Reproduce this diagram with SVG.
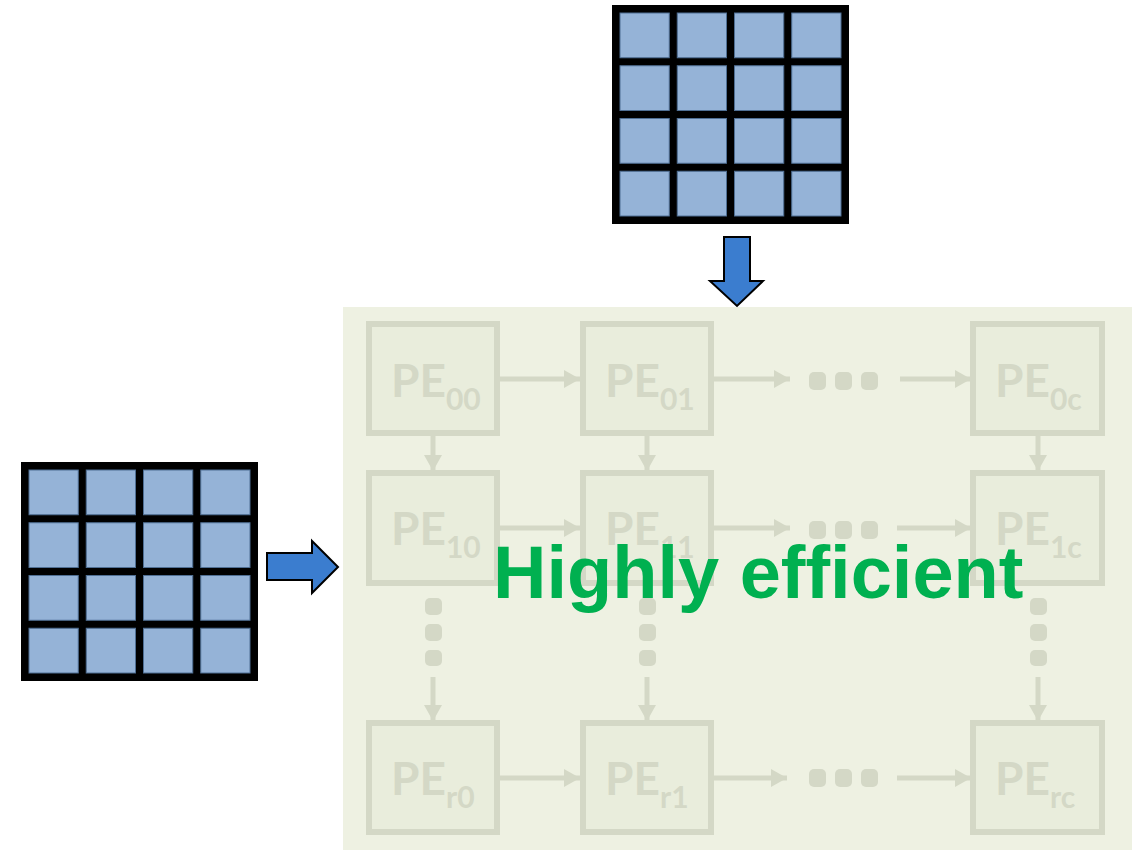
<svg xmlns="http://www.w3.org/2000/svg" width="1135" height="851" viewBox="0 0 1135 851">
  <defs>
    <style>
      .panel { fill: #EEF1E2; }
      .pe rect { fill: #E9EDDC; stroke: #D4D8C6; stroke-width: 6; }
      .pe text { font-family: Lato, "Open Sans", sans-serif; font-weight: bold; fill: #D4D8C6; font-size: 46px; }
      .pe .sub { font-size: 30px; }
      .wire { stroke: #D4D8C6; stroke-width: 5; fill: none; }
      .dot { fill: #D4D8C6; }
      .cell { fill: #95B3D7; stroke: #4F6F94; stroke-width: 1; }
      .frame { fill: #000; }
      .feed { fill: #3B7DCF; stroke: #000; stroke-width: 2; stroke-linejoin: miter; }
      .title { font-family: "Liberation Sans", Arial, sans-serif; font-weight: bold; font-size: 74px; fill: #00B050; }
    </style>
    <marker id="tip" markerUnits="userSpaceOnUse" markerWidth="18" markerHeight="20" refX="17" refY="10" orient="auto">
      <path d="M1,1 L17,10 L1,19 Z" fill="#D4D8C6"/>
    </marker>
    <!-- 4x4 matrix: black frame with light-blue cells -->
    <g id="matrix">
      <rect class="frame" x="0" y="0" width="237" height="219"/>
      <rect class="cell" x="8" y="8" width="49.25" height="44.75"/>
      <rect class="cell" x="65.25" y="8" width="49.25" height="44.75"/>
      <rect class="cell" x="122.5" y="8" width="49.25" height="44.75"/>
      <rect class="cell" x="179.75" y="8" width="49.25" height="44.75"/>
      <rect class="cell" x="8" y="60.75" width="49.25" height="44.75"/>
      <rect class="cell" x="65.25" y="60.75" width="49.25" height="44.75"/>
      <rect class="cell" x="122.5" y="60.75" width="49.25" height="44.75"/>
      <rect class="cell" x="179.75" y="60.75" width="49.25" height="44.75"/>
      <rect class="cell" x="8" y="113.5" width="49.25" height="44.75"/>
      <rect class="cell" x="65.25" y="113.5" width="49.25" height="44.75"/>
      <rect class="cell" x="122.5" y="113.5" width="49.25" height="44.75"/>
      <rect class="cell" x="179.75" y="113.5" width="49.25" height="44.75"/>
      <rect class="cell" x="8" y="166.25" width="49.25" height="44.75"/>
      <rect class="cell" x="65.25" y="166.25" width="49.25" height="44.75"/>
      <rect class="cell" x="122.5" y="166.25" width="49.25" height="44.75"/>
      <rect class="cell" x="179.75" y="166.25" width="49.25" height="44.75"/>
    </g>
  </defs>

  <rect width="1135" height="851" fill="#FFFFFF"/>

  <!-- systolic array panel -->
  <rect class="panel" x="343" y="307" width="789" height="543"/>

  <!-- input matrices -->
  <use id="matrix-top" href="#matrix" x="612" y="5"/>
  <use id="matrix-left" href="#matrix" x="21" y="462"/>

  <!-- feed arrows -->
  <g id="feed-arrows">
    <path class="feed" d="M724,237 L750,237 L750,281 L763,281 L737,306 L710,281 L724,281 Z"/>
    <path class="feed" d="M267,553 L312,553 L312,541 L338,567 L312,593 L312,580 L267,580 Z"/>
  </g>

  <!-- connectors between processing elements -->
  <g id="connectors">
    <!-- row 0 -->
    <line class="wire" x1="500" y1="379" x2="580" y2="379" marker-end="url(#tip)"/>
    <line class="wire" x1="714" y1="379" x2="790" y2="379" marker-end="url(#tip)"/>
    <line class="wire" x1="900" y1="379" x2="971" y2="379" marker-end="url(#tip)"/>
    <!-- row 1 -->
    <line class="wire" x1="500" y1="528" x2="580" y2="528" marker-end="url(#tip)"/>
    <line class="wire" x1="714" y1="528" x2="790" y2="528" marker-end="url(#tip)"/>
    <line class="wire" x1="897" y1="528" x2="971" y2="528" marker-end="url(#tip)"/>
    <!-- row r -->
    <line class="wire" x1="500" y1="778" x2="580" y2="778" marker-end="url(#tip)"/>
    <line class="wire" x1="714" y1="778" x2="787" y2="778" marker-end="url(#tip)"/>
    <line class="wire" x1="897" y1="778" x2="971" y2="778" marker-end="url(#tip)"/>
    <!-- row 0 to row 1 -->
    <line class="wire" x1="433" y1="436" x2="433" y2="471" marker-end="url(#tip)"/>
    <line class="wire" x1="647" y1="436" x2="647" y2="471" marker-end="url(#tip)"/>
    <line class="wire" x1="1038" y1="436" x2="1038" y2="471" marker-end="url(#tip)"/>
    <!-- into row r -->
    <line class="wire" x1="433" y1="677" x2="433" y2="721" marker-end="url(#tip)"/>
    <line class="wire" x1="647" y1="677" x2="647" y2="721" marker-end="url(#tip)"/>
    <line class="wire" x1="1038" y1="677" x2="1038" y2="721" marker-end="url(#tip)"/>
    <!-- ellipsis dots -->
    <rect class="dot" x="809" y="372" width="17" height="18" rx="5"/>
    <rect class="dot" x="835" y="372" width="17" height="18" rx="5"/>
    <rect class="dot" x="861" y="372" width="17" height="18" rx="5"/>
    <rect class="dot" x="809" y="521" width="17" height="18" rx="5"/>
    <rect class="dot" x="835" y="521" width="17" height="18" rx="5"/>
    <rect class="dot" x="861" y="521" width="17" height="18" rx="5"/>
    <rect class="dot" x="809" y="769" width="17" height="18" rx="5"/>
    <rect class="dot" x="835" y="769" width="17" height="18" rx="5"/>
    <rect class="dot" x="861" y="769" width="17" height="18" rx="5"/>
    <rect class="dot" x="425" y="598" width="17" height="17" rx="5"/>
    <rect class="dot" x="425" y="624" width="17" height="17" rx="5"/>
    <rect class="dot" x="425" y="650" width="17" height="16" rx="5"/>
    <rect class="dot" x="639" y="598" width="17" height="17" rx="5"/>
    <rect class="dot" x="639" y="624" width="17" height="17" rx="5"/>
    <rect class="dot" x="639" y="650" width="17" height="16" rx="5"/>
    <rect class="dot" x="1030" y="598" width="17" height="17" rx="5"/>
    <rect class="dot" x="1030" y="624" width="17" height="17" rx="5"/>
    <rect class="dot" x="1030" y="650" width="17" height="16" rx="5"/>
  </g>

  <!-- processing elements -->
  <g id="pe00" class="pe"><rect x="369" y="324" width="128" height="109"/><text x="391" y="397">PE<tspan class="sub" y="410">00</tspan></text></g>
  <g id="pe01" class="pe"><rect x="583" y="324" width="128" height="109"/><text x="605" y="397">PE<tspan class="sub" y="410">01</tspan></text></g>
  <g id="pe0c" class="pe"><rect x="973" y="324" width="129" height="109"/><text x="995" y="397">PE<tspan class="sub" y="410">0c</tspan></text></g>
  <g id="pe10" class="pe"><rect x="369" y="473" width="128" height="110"/><text x="391" y="545">PE<tspan class="sub" y="558">10</tspan></text></g>
  <g id="pe11" class="pe"><rect x="583" y="473" width="128" height="110"/><text x="605" y="545">PE<tspan class="sub" y="558">11</tspan></text></g>
  <g id="pe1c" class="pe"><rect x="973" y="473" width="129" height="110"/><text x="995" y="545">PE<tspan class="sub" y="558">1c</tspan></text></g>
  <g id="per0" class="pe"><rect x="369" y="723" width="128" height="109"/><text x="391" y="795">PE<tspan class="sub" y="808">r0</tspan></text></g>
  <g id="per1" class="pe"><rect x="583" y="723" width="128" height="109"/><text x="605" y="795">PE<tspan class="sub" y="808">r1</tspan></text></g>
  <g id="perc" class="pe"><rect x="973" y="723" width="129" height="109"/><text x="995" y="795">PE<tspan class="sub" y="808">rc</tspan></text></g>

  <!-- headline -->
  <text id="headline" class="title" x="493" y="598">Highly efficient</text>
</svg>
